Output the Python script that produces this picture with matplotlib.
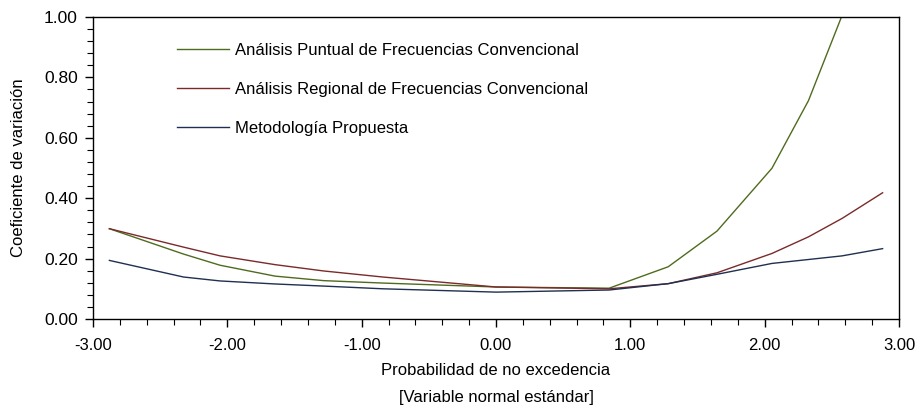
import matplotlib
matplotlib.use("Agg")
import matplotlib.pyplot as plt
from matplotlib.ticker import MultipleLocator, FormatStrFormatter

plt.rcParams['font.family'] = ['Liberation Sans', 'DejaVu Sans']
plt.rcParams['font.size'] = 12

# variable normal estandar (cuantiles de probabilidad de no excedencia)
z = [-2.878, -2.326, -2.054, -1.645, -1.282, -0.842, 0.0,
     0.842, 1.282, 1.645, 2.054, 2.326, 2.576, 2.878]

cv_puntual = [0.299, 0.215, 0.178, 0.142, 0.127, 0.119, 0.106,
              0.102, 0.173, 0.291, 0.499, 0.723, 1.005, 1.45]
cv_regional = [0.299, 0.238, 0.209, 0.180, 0.159, 0.139, 0.106,
               0.100, 0.117, 0.153, 0.217, 0.272, 0.333, 0.418]
cv_propuesta = [0.194, 0.139, 0.126, 0.116, 0.109, 0.100, 0.089,
                0.096, 0.117, 0.148, 0.184, 0.197, 0.209, 0.233]

labels = ["Análisis Puntual de Frecuencias Convencional",
          "Análisis Regional de Frecuencias Convencional",
          "Metodología Propuesta"]
colors = ["#4f6b1f", "#7b2a2a", "#1f3050"]

fig = plt.figure(figsize=(9.19, 4.13), dpi=100)
ax = fig.add_axes([93 / 919, 1 - 319 / 413, 806 / 919, 302 / 413])

for y, lab, c in zip([cv_puntual, cv_regional, cv_propuesta], labels, colors):
    ax.plot(z, y, color=c, lw=1.0, label=lab)

ax.set_xlim(-3, 3)
ax.set_ylim(0, 1)
ax.xaxis.set_major_locator(MultipleLocator(1.0))
ax.xaxis.set_minor_locator(MultipleLocator(0.2))
ax.yaxis.set_major_locator(MultipleLocator(0.2))
ax.yaxis.set_minor_locator(MultipleLocator(0.04))
ax.xaxis.set_major_formatter(FormatStrFormatter('%.2f'))
ax.yaxis.set_major_formatter(FormatStrFormatter('%.2f'))
ax.tick_params(which='major', direction='out', length=6, width=1.0)
ax.tick_params(which='minor', direction='out', length=4, width=0.8)
ax.tick_params(axis='x', which='major', pad=8, labelsize=12)
ax.tick_params(axis='y', which='major', pad=5, labelsize=12.5)

for s in ax.spines.values():
    s.set_linewidth(1.0)

ax.set_ylabel("Coeficiente de variación", labelpad=13)
ax.set_xlabel("Probabilidad de no excedencia\n[Variable normal estándar]",
              linespacing=2.0, labelpad=7)

ax.legend(loc='upper left', bbox_to_anchor=(0.0856, 0.9646), frameon=False,
          handlelength=3.1, handletextpad=0.36, labelspacing=1.45,
          fontsize=12)

fig.savefig("out.png", dpi=100)
